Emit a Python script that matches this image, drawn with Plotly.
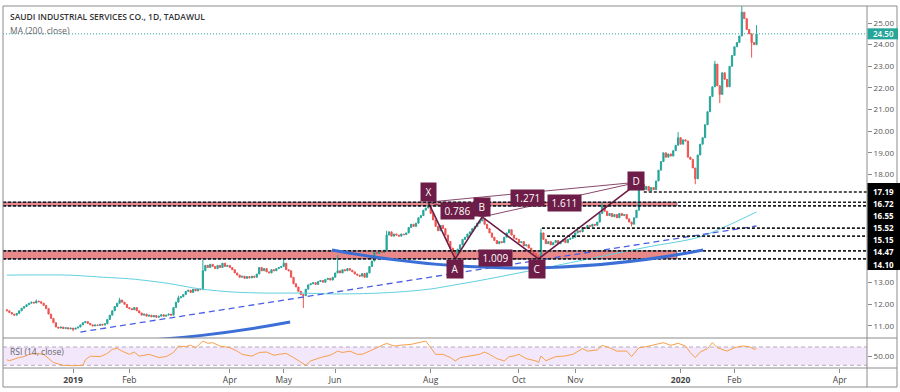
import pandas as pd
import plotly.graph_objects as go

FONT = "Open Sans"

# ---------------- DATA ----------------
# Daily closes (Tadawul trading days, Sun-Thu)
close_2018_nov_dec = [11.70, 11.62, 11.55, 11.50, 11.58, 11.70, 11.82, 11.90, 11.98, 12.05,
                      12.10, 12.06, 12.15, 12.12, 12.05, 11.95, 11.80, 11.55, 11.35, 11.15,
                      10.95, 10.90, 10.95, 10.88, 10.92, 10.86, 10.90]
close_2019_jan = [10.85, 10.90, 10.95, 11.05, 11.15, 11.20, 11.12, 11.05, 11.00, 11.05,
                  11.02, 11.08, 11.04, 11.10, 11.30, 11.50, 11.70, 11.90, 12.05, 12.20,
                  12.10, 12.00, 11.85]
close_2019_feb_mar = [11.80, 11.75, 11.85, 11.70, 11.60, 11.50, 11.55, 11.45, 11.50, 11.42,
                      11.48, 11.40, 11.45, 11.52, 11.45, 11.50, 11.55, 11.50, 11.85, 12.10,
                      12.30, 12.35, 12.45, 12.60, 12.65, 12.55, 12.70, 12.62, 12.70, 12.68,
                      13.55, 13.80, 13.70, 13.85, 13.75, 13.65, 13.80, 13.70, 13.90, 13.75,
                      13.80]
close_2019_apr = [13.70, 13.60, 13.45, 13.35, 13.25, 13.30, 13.20, 13.28, 13.22, 13.30,
                  13.25, 13.40, 13.70, 13.55, 13.65, 13.50, 13.45, 13.60, 13.55, 13.65,
                  13.70, 13.75]
close_2019_may = [13.90, 13.60, 13.55, 13.25, 12.95, 12.80, 12.60, 12.45, 12.40, 12.70,
                  12.90, 12.95, 13.00, 12.92, 13.05, 13.10, 13.02, 13.15, 13.20, 13.12,
                  13.25]
close_2019_jun_jul = [13.45, 13.55, 13.45, 13.60, 13.55, 13.65, 13.58, 13.50, 13.40, 13.35,
                      13.30, 13.42, 13.25, 13.45, 13.75, 14.00, 14.40, 14.35, 14.45, 14.40,
                      14.50, 15.20, 15.35, 15.15, 15.25, 15.20, 15.15, 15.25, 15.22, 15.30,
                      15.55, 15.70, 15.60, 15.75, 16.00, 16.10, 16.35, 16.45, 16.55]
close_2019_aug_sep = [16.20, 15.90, 15.60, 15.40, 15.65, 15.50, 15.20, 14.90, 14.60, 14.45,
                      14.30, 14.55, 14.75, 15.00, 15.10, 15.25, 15.35, 15.50, 15.60, 15.75,
                      15.85, 15.95, 15.70, 15.50, 15.30, 15.10, 14.95, 14.80, 14.90, 14.85,
                      15.10, 15.30, 15.45, 15.20, 15.05, 15.00]
close_2019_oct = [14.85, 14.90, 14.70, 14.75, 14.60, 14.45, 14.35, 14.25, 14.20, 15.30,
                  15.00, 14.80, 14.90, 14.75, 14.85, 14.95, 14.80, 14.90, 15.00, 14.85,
                  15.00, 15.05, 15.10]
close_2019_nov_dec = [15.30, 15.40, 15.35, 15.55, 15.50, 15.65, 15.60, 15.70, 15.65, 15.80,
                      16.20, 16.55, 16.30, 16.10, 16.20, 16.05, 16.15, 16.00, 16.20, 16.10,
                      16.15, 15.95, 15.80, 15.70, 16.00, 16.35, 17.35, 17.55, 17.30, 17.45,
                      17.25, 17.40, 17.30, 17.70, 18.20, 18.60, 19.00, 18.80, 18.95, 18.85,
                      19.10, 19.35, 19.70]
close_2020_jan = [19.40, 19.60, 19.55, 18.80, 18.70, 18.30, 17.80, 18.90, 19.40, 19.70,
                  20.30, 20.90, 21.60, 22.05, 23.10, 22.10, 21.70, 22.70, 22.40, 22.05,
                  23.00, 23.50]
close_2020_feb = [23.90, 24.10, 24.40, 25.50, 25.20, 24.70, 24.50, 24.10, 24.00, 24.50]

first_open = 11.75
# notable wicks (bar index -> price)
high_wicks = {12: 12.22, 46: 12.30, 70: 12.40, 80: 14.05, 113: 14.14, 135: 14.27, 150: 14.45,
              155: 15.40, 172: 16.72, 194: 16.04, 218: 15.50, 243: 16.72, 258: 17.65,
              274: 19.96, 289: 23.25, 300: 25.80, 306: 24.90}
low_wicks = {27: 10.75, 121: 11.83, 183: 14.10, 217: 14.10, 255: 15.60, 281: 17.55,
             291: 21.30, 304: 23.40}

# MA(200, close) (bar index, value)
ma_idx = [0, 25, 38, 51, 65, 79, 92, 106, 120, 133, 147, 160, 173, 185, 194, 218, 242, 262, 283, 306]
ma_val = [13.35, 13.35, 13.26, 13.17, 12.98, 12.71, 12.57, 12.52, 12.52, 12.48, 12.50, 12.57,
          12.71, 12.94, 13.12, 13.65, 14.20, 14.66, 15.12, 16.27]

# RSI(14, close) (bar index, value)
rsi_idx = [0, 1, 5, 7, 9, 12, 15, 16, 19, 23, 27, 31, 32, 34, 38, 41, 43, 45, 47, 50,
           52, 54, 58, 62, 65, 68, 70, 73, 75, 77, 80, 82, 84, 87, 91, 94, 96, 100, 103, 106,
           109, 111, 114, 117, 120, 122, 124, 128, 132, 135, 137, 140, 143, 145, 148, 151, 155, 158, 160, 165,
           169, 171, 173, 175, 178, 181, 183, 185, 189, 193, 195, 197, 200, 203, 205, 207, 209, 212, 216, 217,
           218, 220, 224, 228, 231, 235, 237, 241, 243, 246, 249, 253, 255, 258, 261, 265, 268, 271, 274, 277,
           279, 281, 283, 286, 288, 290, 292, 294, 297, 300, 303, 305, 306]
rsi_val = [42, 40, 47, 49, 54, 56, 54, 49, 36, 30, 29, 30, 42, 50, 49, 56, 65, 67, 61, 54,
           59, 50, 54, 47, 49, 58, 72, 71, 74, 68, 83, 78, 79.5, 72, 68.5, 61, 54, 50, 58, 59,
           52, 54, 56, 47, 36, 30, 39.5, 47, 52, 61, 58, 61, 54, 54, 61, 68.5, 78, 72, 73.6, 75.8,
           79.5, 83, 68.5, 54, 54, 47, 39.5, 46.7, 50.4, 54, 59, 54, 44.6, 39.5, 49, 50.4, 54, 44.6, 39.5, 36,
           50.4, 40, 49, 50.4, 54, 66.4, 61, 63.5, 73.6, 68.5, 61, 61, 49, 68.5, 70.7, 75.8, 79.5, 73.6, 78, 72.2,
           57.6, 46.7, 59, 66.4, 79.5, 68.5, 65, 61, 68.5, 72.2, 70.7, 65, 66.4]

# Drawings
zone_low = [16.55, 14.10]
zone_high = [16.72, 14.47]
zone_end_idx = [273.5, 273.5]
level_price = [17.19, 16.72, 16.55, 15.52, 15.15, 14.47, 14.10]
level_start_idx = [260, -2, -2, 218.4, 220.5, -2, -2]
trend_idx = [30, 306]
trend_price = [10.72, 15.62]
arc1_idx = [58.4, 85, 115.6]
arc1_price = [10.35, 10.54, 11.18]
arc2_idx = [132.7, 210.3, 284.2]
arc2_price = [14.51, 12.85, 14.51]

pattern_names = ['X', 'A', 'B', 'C', 'D']
pattern_idx = [172, 183, 194, 217, 258]
pattern_price = [16.72, 14.10, 16.04, 14.10, 17.65]
ratio_text = ['0.786', '1.009', '1.271', '1.611']
ratio_from = ['X', 'A', 'X', 'B']
ratio_to = ['B', 'C', 'D', 'D']

holidays = ['2019-05-30', '2019-06-02', '2019-06-03', '2019-06-04', '2019-06-05', '2019-06-06',
            '2019-08-08', '2019-08-11', '2019-08-12', '2019-08-13', '2019-08-14', '2019-08-15',
            '2019-09-23']
tick_months = ['2019-01', '2019-02', '2019-04', '2019-05', '2019-06', '2019-08', '2019-10',
               '2019-11', '2020-01', '2020-02', '2020-04']
tick_labels = ['<b>2019</b>', 'Feb', 'Apr', 'May', 'Jun', 'Aug', 'Oct', 'Nov', '<b>2020</b>', 'Feb', 'Apr']

title_text = "SAUDI INDUSTRIAL SERVICES CO., 1D, TADAWUL"
ma_text = "MA (200, close)"
rsi_text = "RSI (14, close)"

# ---------------- BUILD ----------------
close = (close_2018_nov_dec + close_2019_jan + close_2019_feb_mar + close_2019_apr +
         close_2019_may + close_2019_jun_jul + close_2019_aug_sep + close_2019_oct +
         close_2019_nov_dec + close_2020_jan + close_2020_feb)
n = len(close)
xi = list(range(n))
open_ = [first_open] + close[:-1]
high = [max(o, c) for o, c in zip(open_, close)]
low = [min(o, c) for o, c in zip(open_, close)]
for k, v in high_wicks.items():
    if k < n:
        high[k] = max(high[k], v)
for k, v in low_wicks.items():
    if k < n:
        low[k] = min(low[k], v)

dates = pd.bdate_range('2018-11-25', '2020-04-30', freq='C',
                       weekmask='Sun Mon Tue Wed Thu', holidays=holidays)
ym = list(dates.strftime('%Y-%m'))
tick_pos = [ym.index(m) for m in tick_months]

GREEN = '#26a69a'
RED = '#ef5350'
MAROON = '#6d1d47'
BLUE = '#3b6fd6'
GRID = '#8c8c8c'

X_MIN, X_MAX = -1.6, 351.1
Y_MIN, Y_MAX = 10.444, 25.786
PANE = 0.0829

fig = go.Figure()
fig.add_trace(go.Candlestick(
    x=xi, open=open_, high=high, low=low, close=close,
    increasing=dict(line=dict(color=GREEN, width=1), fillcolor=GREEN),
    decreasing=dict(line=dict(color=RED, width=1), fillcolor=RED),
    whiskerwidth=0, xaxis='x', yaxis='y', hoverinfo='skip'))

fig.add_trace(go.Scatter(x=ma_idx, y=ma_val, mode='lines', line=dict(color='#5fd0df', width=1, shape='spline', smoothing=0.8),
                         xaxis='x', yaxis='y', hoverinfo='skip'))
fig.add_trace(go.Scatter(x=trend_idx, y=trend_price, mode='lines',
                         line=dict(color='#4a5fe3', width=1.3, dash='6px,4px'),
                         xaxis='x', yaxis='y', hoverinfo='skip'))

# harmonic pattern
pmap = {nm: (i, p) for nm, i, p in zip(pattern_names, pattern_idx, pattern_price)}
for a, b in zip(ratio_from, ratio_to):
    fig.add_trace(go.Scatter(x=[pmap[a][0], pmap[b][0]], y=[pmap[a][1], pmap[b][1]], mode='lines',
                             line=dict(color=MAROON, width=1), opacity=0.8,
                             xaxis='x', yaxis='y', hoverinfo='skip'))
fig.add_trace(go.Scatter(x=pattern_idx, y=pattern_price, mode='lines',
                         line=dict(color=MAROON, width=1.6), xaxis='x', yaxis='y', hoverinfo='skip'))

fig.add_trace(go.Scatter(x=rsi_idx, y=rsi_val, mode='lines', line=dict(color='#f7a04a', width=1),
                         xaxis='x', yaxis='y2', hoverinfo='skip'))

shapes = []
# RSI band
shapes.append(dict(type='rect', xref='paper', yref='y2', x0=0, x1=1, y0=30, y1=70,
                   fillcolor='#f3e7fc', line=dict(width=0), layer='below'))
for lv in (30, 70):
    shapes.append(dict(type='line', xref='paper', yref='y2', x0=0, x1=1, y0=lv, y1=lv,
                       line=dict(color='#b5a9bd', width=1, dash='4px,3px'), layer='below'))
# zones
for lo, hi, xe in zip(zone_low, zone_high, zone_end_idx):
    shapes.append(dict(type='rect', xref='x', yref='y', x0=X_MIN, x1=xe, y0=lo, y1=hi,
                       fillcolor='rgba(228,110,110,0.82)', line=dict(color='rgba(70,60,110,0.7)', width=1),
                       layer='below'))
# dashed levels
for lv, xs in zip(level_price, level_start_idx):
    shapes.append(dict(type='line', xref='x', yref='y', x0=max(xs, X_MIN), x1=X_MAX, y0=lv, y1=lv,
                       line=dict(color='#1e1e1e', width=1.6, dash='3px,2px')))
# last price line
shapes.append(dict(type='line', xref='x', yref='y', x0=X_MIN, x1=X_MAX, y0=close[-1], y1=close[-1],
                   line=dict(color=GREEN, width=1, dash='1px,2px')))
# blue curves
for cx, cy in ((arc1_idx, arc1_price), (arc2_idx, arc2_price)):
    shapes.append(dict(type='path', xref='x', yref='y',
                       path=f"M {cx[0]},{cy[0]} Q {cx[1]},{cy[1]} {cx[2]},{cy[2]}",
                       line=dict(color=BLUE, width=3)))

# frame (paper coords; plot area is px 3..867 x 6..368)
def px(xp):
    return (xp - 3) / 864.0

def py(yp):
    return (368 - yp) / 362.0

frame = [
    (px(3), py(6), px(897), py(6)),
    (px(3), py(6), px(3), py(387)),
    (px(897), py(6), px(897), py(387)),
    (px(867), py(6), px(867), py(387)),
    (px(3), py(338), px(897), py(338)),
    (px(3), py(368), px(897), py(368)),
    (px(3), py(387), px(897), py(387)),
]
for x0, y0, x1, y1 in frame:
    shapes.append(dict(type='line', xref='paper', yref='paper', x0=x0, y0=y0, x1=x1, y1=y1,
                       line=dict(color=GRID, width=1), layer='above'))

# right-side labels
shapes.append(dict(type='rect', xref='paper', yref='paper', x0=px(867.5), x1=px(900), y0=py(183), y1=py(270),
                   fillcolor='#000000', line=dict(width=0)))
shapes.append(dict(type='rect', xref='paper', yref='y', x0=px(867.5), x1=px(898),
                   y0=close[-1] - 0.255, y1=close[-1] + 0.255, fillcolor=GREEN, line=dict(width=0)))

ann = []
ann.append(dict(xref='paper', yref='paper', x=px(8), y=py(16), text=title_text, showarrow=False,
                xanchor='left', yanchor='middle', font=dict(family=FONT, size=8.5, color='#333333', weight=600)))
ann.append(dict(xref='paper', yref='paper', x=px(8), y=py(30), text=ma_text, showarrow=False,
                xanchor='left', yanchor='middle', font=dict(family=FONT, size=8.5, color='#666666')))
ann.append(dict(xref='paper', yref='paper', x=px(8), y=py(351.5), text=rsi_text, showarrow=False,
                xanchor='left', yanchor='middle', font=dict(family=FONT, size=8.5, color='#666666')))
ann.append(dict(xref='paper', yref='y', x=px(883), y=close[-1], text=f"{close[-1]:.2f}", showarrow=False,
                xanchor='center', yanchor='middle', font=dict(family=FONT, size=8, color='white', weight=600)))
for k, lv in enumerate(level_price):
    ann.append(dict(xref='paper', yref='paper', x=px(883), y=py(191.7 + k * 12.05), text=f"{lv:.2f}",
                    showarrow=False, xanchor='center', yanchor='middle',
                    font=dict(family=FONT, size=8, color='white', weight=700)))

label_shift = {'X': (0, 10), 'A': (0, -10), 'B': (0, 10), 'C': (-2, -10), 'D': (-3, 1)}
for nm, i, p in zip(pattern_names, pattern_idx, pattern_price):
    dx, dy = label_shift[nm]
    ann.append(dict(xref='x', yref='y', x=i, y=p, text=f"&nbsp;{nm}&nbsp;", showarrow=False,
                    xshift=dx, yshift=dy, bgcolor=MAROON, borderpad=2,
                    font=dict(family=FONT, size=10, color='white')))
ratio_shift = {'0.786': (2, -1), '1.009': (-1, 1), '1.271': (-6, -6), '1.611': (4, -4)}
for t, a, b in zip(ratio_text, ratio_from, ratio_to):
    mx = (pmap[a][0] + pmap[b][0]) / 2
    my = (pmap[a][1] + pmap[b][1]) / 2
    dx, dy = ratio_shift[t]
    ann.append(dict(xref='x', yref='y', x=mx, y=my, text=f"&nbsp;{t}&nbsp;", showarrow=False,
                    xshift=dx, yshift=dy, bgcolor=MAROON, borderpad=1,
                    font=dict(family=FONT, size=10, color='white')))

fig.update_layout(
    width=900, height=392, margin=dict(l=3, r=33, t=6, b=24),
    paper_bgcolor='white', plot_bgcolor='white', showlegend=False,
    shapes=shapes, annotations=ann,
    xaxis=dict(domain=[0, 1], anchor='y2', range=[X_MIN, X_MAX], tickmode='array',
               tickvals=tick_pos, ticktext=tick_labels, ticks='outside', ticklen=4, tickcolor=GRID,
               showgrid=False, zeroline=False, showline=False, rangeslider=dict(visible=False),
               tickfont=dict(family=FONT, size=8.5, color='#444444')),
    yaxis=dict(domain=[PANE, 1], anchor='x', side='right', range=[Y_MIN, Y_MAX],
               tickmode='array', tickvals=[11, 12, 13, 18, 19, 20, 21, 22, 23, 24, 25],
               ticktext=[f"{v:.2f}" for v in [11, 12, 13, 18, 19, 20, 21, 22, 23, 24, 25]],
               ticks='outside', ticklen=4, tickcolor=GRID, showgrid=False, zeroline=False, showline=False,
               tickfont=dict(family=FONT, size=8, color='#555555')),
    yaxis2=dict(domain=[0, PANE], anchor='x', side='right', range=[24.1, 89.7],
                tickmode='array', tickvals=[50], ticktext=['50.00'],
                ticks='outside', ticklen=4, tickcolor=GRID, showgrid=False, zeroline=False, showline=False,
                tickfont=dict(family=FONT, size=8, color='#555555')),
)

fig.write_html("out.html", config={'displayModeBar': False},
               post_script="document.body.style.margin='0px';document.body.style.overflow='hidden';")
